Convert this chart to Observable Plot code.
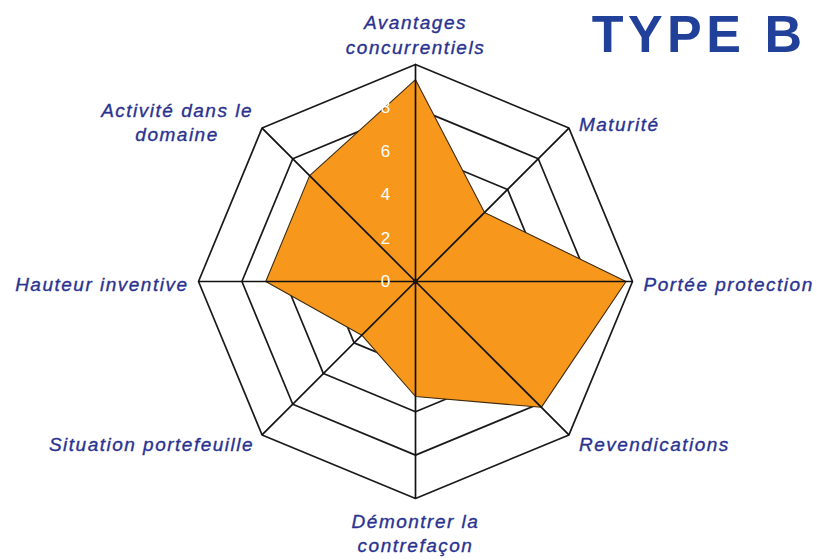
<!DOCTYPE html>
<html>
<head>
<meta charset="utf-8">
<script src="https://cdn.jsdelivr.net/npm/d3@7"></script>
<script src="https://cdn.jsdelivr.net/npm/@observablehq/plot@0.6"></script>
<style>
  html, body { margin: 0; padding: 0; background: #fff; }
  #chart svg { display: block; }
</style>
</head>
<body>
<div id="chart"></div>
<script>
const axes = [
  "Avantages concurrentiels",
  "Maturité",
  "Portée protection",
  "Revendications",
  "Démontrer la contrefaçon",
  "Situation portefeuille",
  "Hauteur inventive",
  "Activité dans le domaine"
];
const axisLabels = [
  "Avantages\nconcurrentiels",
  "Maturité",
  "Portée protection",
  "Revendications",
  "Démontrer la\ncontrefaçon",
  "Situation portefeuille",
  "Hauteur inventive",
  "Activité dans le\ndomaine"
];
const values = [9.3, 4.5, 9.7, 8.2, 5.3, 3.5, 6.9, 6.9];
const levels = [2, 4, 6, 8, 10];
const tickLabels = [0, 2, 4, 6, 8];
const maxValue = 10;
const title = "TYPE B";

const n = axes.length;
const ang = i => i * 2 * Math.PI / n;
const px = (i, v) => v * Math.sin(ang(i));
const py = (i, v) => v * Math.cos(ang(i));

const ringData = levels.flatMap(l =>
  d3.range(n + 1).map(k => ({level: l, x: px(k % n, l), y: py(k % n, l)})));
const polyData = d3.range(n + 1).map(k => ({x: px(k % n, values[k % n]), y: py(k % n, values[k % n])}));
const spokeData = axes.map((a, i) => ({x1: 0, y1: 0, x2: px(i, maxValue), y2: py(i, maxValue)}));

const labelColor = "#2a3290";
const labelFont = {fontSize: 19, fontStyle: "italic", fill: labelColor, stroke: labelColor, strokeWidth: 0.35, fontFamily: "Liberation Sans, Arial, sans-serif", lineHeight: 1.28};
const labelLayout = [
  {textAnchor: "middle", lineAnchor: "bottom", dx: 0, dy: -11},
  {textAnchor: "start", lineAnchor: "middle", dx: 10, dy: -5},
  {textAnchor: "start", lineAnchor: "middle", dx: 11, dy: 2},
  {textAnchor: "start", lineAnchor: "middle", dx: 10, dy: 8},
  {textAnchor: "middle", lineAnchor: "top", dx: 0, dy: 12},
  {textAnchor: "end", lineAnchor: "middle", dx: -8, dy: 8},
  {textAnchor: "end", lineAnchor: "middle", dx: -10, dy: 2},
  {textAnchor: "middle", lineAnchor: "middle", dx: -85, dy: -7}
];

const labelMarks = axisLabels.map((t, i) => Plot.text([t], {
  x: () => px(i, maxValue), y: () => py(i, maxValue), text: d => d,
  ...labelFont, ...labelLayout[i]
}));

const chart = Plot.plot({
  width: 817,
  height: 560,
  margin: 0,
  x: {domain: [-maxValue, maxValue], range: [198, 632], axis: null},
  y: {domain: [-maxValue, maxValue], range: [498, 64], axis: null},
  style: {background: "#fff", overflow: "visible"},
  marks: [
    Plot.line(ringData, {x: "x", y: "y", z: "level", stroke: "#1a1a1a", strokeWidth: 1.7}),
    Plot.line(polyData, {x: "x", y: "y", fill: "#F7981D", stroke: "#3d2a0e", strokeWidth: 1.1}),
    Plot.link(spokeData, {x1: "x1", y1: "y1", x2: "x2", y2: "y2", stroke: "#111", strokeWidth: 1.7}),
    Plot.dot([0], {x: () => 0, y: () => 0, r: 2.5, fill: "#111"}),
    Plot.text(tickLabels, {x: () => 0, y: d => d, text: d => String(d), dx: -30, fill: "#fff", fontSize: 17, fontFamily: "Liberation Sans, Arial, sans-serif"}),
    ...labelMarks,
    Plot.text([title], {frameAnchor: "top-right", text: d => d, dx: -11, dy: 35, lineAnchor: "middle", fontSize: 52, fontWeight: "bold", fill: "#21409a", fontFamily: "Liberation Sans, Arial, sans-serif"})
  ]
});
chart.querySelectorAll('[font-style="italic"]').forEach(el => { el.style.letterSpacing = "1.5px"; });
chart.querySelectorAll('[font-size="52"]').forEach(el => { el.style.letterSpacing = "4.5px"; });
document.getElementById("chart").appendChild(chart);
</script>
</body>
</html>
